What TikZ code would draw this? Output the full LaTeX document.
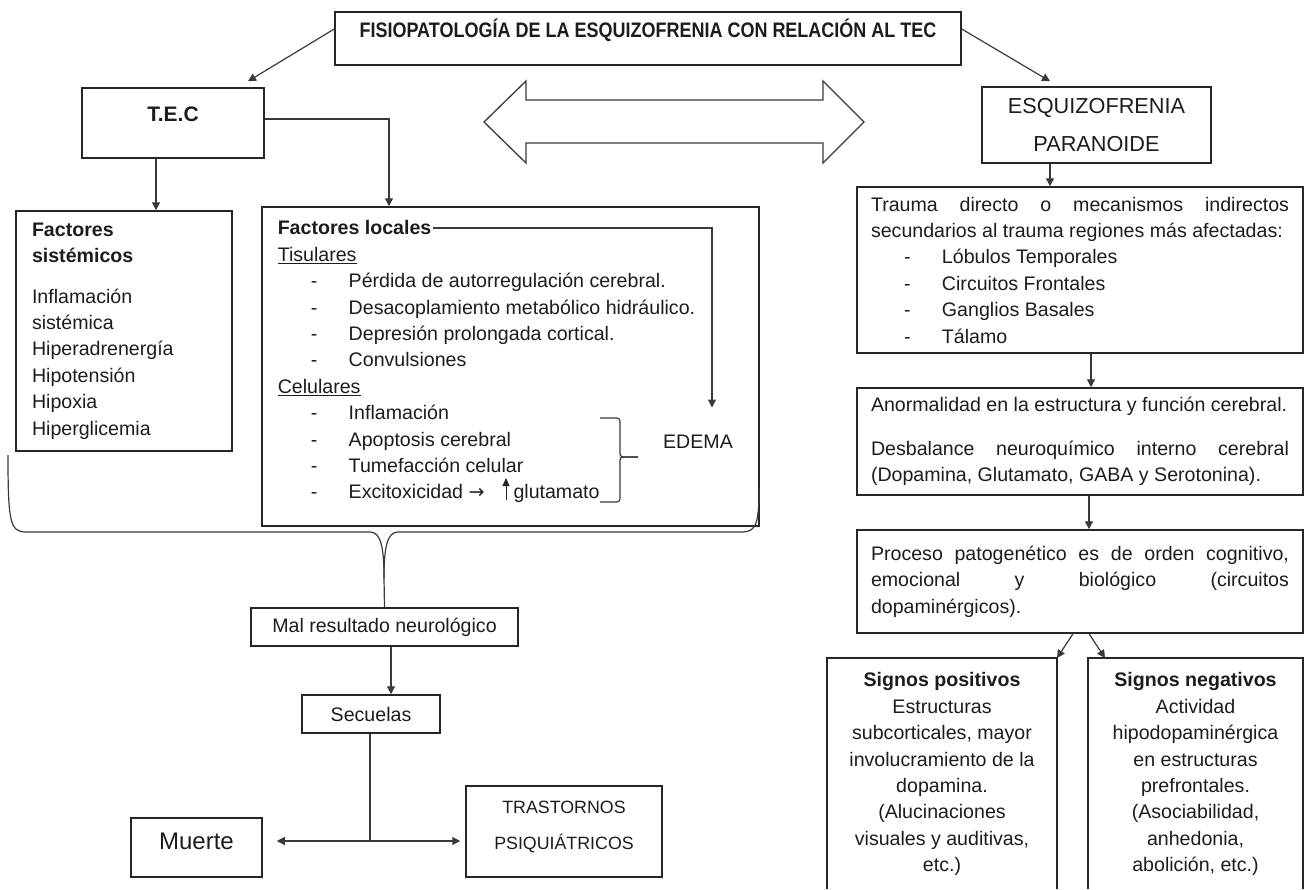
\documentclass[tikz,border=0pt]{standalone}
\usepackage{fontspec}
\setmainfont{Liberation Sans}
\newfontfamily\narrowfont{Liberation Sans}[FakeStretch=0.857]
\newfontfamily\arrowfont{DejaVu Sans}
\usetikzlibrary{arrows.meta,positioning}
\definecolor{SchInk}{HTML}{1C1C1C}
\definecolor{SchEdge}{HTML}{262626}
\definecolor{SchLink}{HTML}{3A3A3A}
\newcommand\bodysize{\fontsize{19.6pt}{26.4pt}\selectfont}
\newcommand\dashitem[1]{\makebox[71pt][l]{\hspace*{33pt}-}#1}
\setlength\parindent{0pt}
\hyphenpenalty=10000

\begin{document}
\begin{tikzpicture}[x=1pt,y=-1pt,line width=1.5pt,draw=SchEdge,text=SchInk,
  box/.style={draw,line width=1.5pt,inner sep=0pt,align=center,font=\bodysize},
  link/.style={draw=SchLink,line width=1.2pt,-{Triangle[length=8pt,width=8pt]}},
  wire/.style={draw=SchLink,line width=1.2pt}]
  \useasboundingbox (0,0) rectangle (1306,889);

  \node[box,minimum width=626pt,minimum height=53pt,text height=15pt,text depth=18pt,
    font=\narrowfont\bfseries\fontsize{21pt}{25pt}\selectfont] (title) at (648,38.5)
    {FISIOPATOLOGÍA DE LA ESQUIZOFRENIA CON RELACIÓN AL TEC};
  \node[box,minimum width=182pt,minimum height=70pt,text height=15pt,text depth=18pt,
    font=\bfseries\fontsize{21pt}{25pt}\selectfont] (tec) at (173,123) {T.E.C};
  \node[box,minimum width=229pt,minimum height=76pt,
    font=\fontsize{21.7pt}{38pt}\selectfont] (esq) at (1096.5,125) {ESQUIZOFRENIA\\PARANOIDE};

  \draw[line width=1.3pt,draw=SchLink] (484,122) -- (526,81) -- (526,100) -- (823,100)
    -- (823,81) -- (864,122) -- (823,163) -- (823,143) -- (526,143) -- (526,163) -- cycle;

  \node[box,minimum width=216pt,minimum height=240pt,text width=184pt,align=left] (sis) at (124,331)
    {\textbf{Factores}\\\textbf{sistémicos}\\[14pt]Inflamación\\sistémica\\Hiperadrenergía\\Hipotensión\\Hipoxia\\Hiperglicemia};

  \node[box,minimum width=497pt,minimum height=319pt] (loc) at (510.5,366.5) {};
  \node[font=\bodysize,align=left,anchor=north west,inner sep=0pt] (loclist) at (277,220)
    {\textbf{Factores locales}\\\underline{Tisulares}\\
     \dashitem{Pérdida de autorregulación cerebral.}\\
     \dashitem{Desacoplamiento metabólico hidráulico.}\\
     \dashitem{Depresión prolongada cortical.}\\
     \dashitem{Convulsiones}\\
     \underline{Celulares}\\
     \dashitem{Inflamación}\\
     \dashitem{Apoptosis cerebral}\\
     \dashitem{Tumefacción celular}\\
     \dashitem{Excitoxicidad {\arrowfont\fontsize{19pt}{20pt}\selectfont →}\hspace*{29pt}glutamato}};
  \draw[line width=1pt,-{Triangle[length=8pt,width=7pt]}] (506,500) -- (506,478);
  \node[font=\bodysize,inner sep=0pt] (edema) at (698,442) {EDEMA};
  \coordinate (lochead) at (433,228);
  \draw[link] (lochead) -| ([xshift=14pt,yshift=27pt]edema.north);
  \draw[wire,rounded corners=3pt] (600,418) -| (620,457) -- (638,457);
  \draw[wire,rounded corners=3pt] (638,457) -- (620,457) |- (600,502);

  \node[box,minimum width=446pt,minimum height=166pt,text width=418pt,align=justify] (trauma) at (1080,270)
    {Trauma directo o mecanismos indirectos\linebreak secundarios al trauma regiones más afectadas:\\
     \dashitem{Lóbulos Temporales}\\\dashitem{Circuitos Frontales}\\\dashitem{Ganglios Basales}\\\dashitem{Tálamo}};
  \node[box,minimum width=446pt,minimum height=107pt,text width=418pt,align=justify] (anorm) at (1080,441.5)
    {Anormalidad en la estructura y función cerebral.\\[17.6pt]
     Desbalance neuroquímico interno cerebral\linebreak (Dopamina, Glutamato, GABA y Serotonina).};
  \node[box,minimum width=446pt,minimum height=103pt,text width=418pt,align=justify] (proc) at (1080,581.5)
    {Proceso patogenético es de orden cognitivo,\linebreak emocional y biológico (circuitos\linebreak dopaminérgicos).};

  \draw[line width=1.5pt] (827,889) |- (1057,658) -- (1057,889);
  \draw[line width=1.5pt] (1088,889) |- (1303,658) -- (1303,889);
  \coordinate (posTR) at (1057,658);
  \coordinate (negTL) at (1105,658);
  \node[font=\bodysize,align=center,anchor=north,inner sep=0pt] (pos) at (942,672)
    {\textbf{Signos positivos}\\Estructuras\\subcorticales, mayor\\involucramiento de la\\dopamina.\\(Alucinaciones\\visuales y auditivas,\\etc.)};
  \node[font=\bodysize,align=center,anchor=north,inner sep=0pt] (neg) at (1195.5,672)
    {\textbf{Signos negativos}\\Actividad\\hipodopaminérgica\\en estructuras\\prefrontales.\\(Asociabilidad,\\anhedonia,\\abolición, etc.)};

  \node[box,minimum width=267pt,minimum height=38pt] (mal) at (384.5,627) {Mal resultado neurológico};
  \node[box,minimum width=138pt,minimum height=38pt] (sec) at (371,714) {Secuelas};
  \node[box,minimum width=131pt,minimum height=59pt,text height=17pt,text depth=13pt,
    font=\fontsize{24pt}{28pt}\selectfont] (muerte) at (196.5,847.5) {Muerte};
  \node[box,minimum width=196pt,minimum height=91pt,text depth=13pt,
    font=\fontsize{17.8pt}{36pt}\selectfont] (tras) at (564,831.5) {TRASTORNOS\\PSIQUIÁTRICOS};

  \draw[wire] (8,455) .. controls (8,522) and (10,532) .. (26,532) -- (370,532)
    .. controls (381,532) and (384,548) .. (384,578) -- (mal.north);
  \draw[wire] (759,488) .. controls (759,524) and (756,532) .. (742,532) -- (398,532)
    .. controls (387,532) and (384,548) .. (384,578);

  \draw[link] ([yshift=9.5pt]title.west) -- ([xshift=75pt,yshift=6pt]tec.north);
  \draw[link] ([yshift=9.5pt]title.east) -- ([xshift=-46.5pt,yshift=5pt]esq.north);
  \draw[link] ([xshift=-17pt]tec.south) -- ([xshift=-17pt]tec.south |- sis.north);
  \draw[link] ([yshift=4pt]tec.east) -| ([xshift=-121.5pt]loc.north);
  \draw[link] ([xshift=-46.5pt]esq.south) -- ([xshift=-46.5pt]esq.south |- trauma.north);
  \draw[link] ([xshift=11pt]trauma.south) -- ([xshift=11pt]anorm.north);
  \draw[link] ([xshift=9pt]anorm.south) -- ([xshift=9pt]proc.north);
  \draw[link] ([xshift=-7pt]proc.south) -- (posTR);
  \draw[link] ([xshift=9pt]proc.south) -- (negTL);
  \draw[link] ([xshift=6.5pt]mal.south) -- ([xshift=6.5pt]mal.south |- sec.north);
  \coordinate (split) at (370,841);
  \draw[wire] (sec.south -| split) -- (split);
  \draw[link,shorten >=14pt] (split) -- (split -| muerte.east);
  \draw[link,shorten >=5pt] (split) -- (split -| tras.west);
\end{tikzpicture}
\end{document}
